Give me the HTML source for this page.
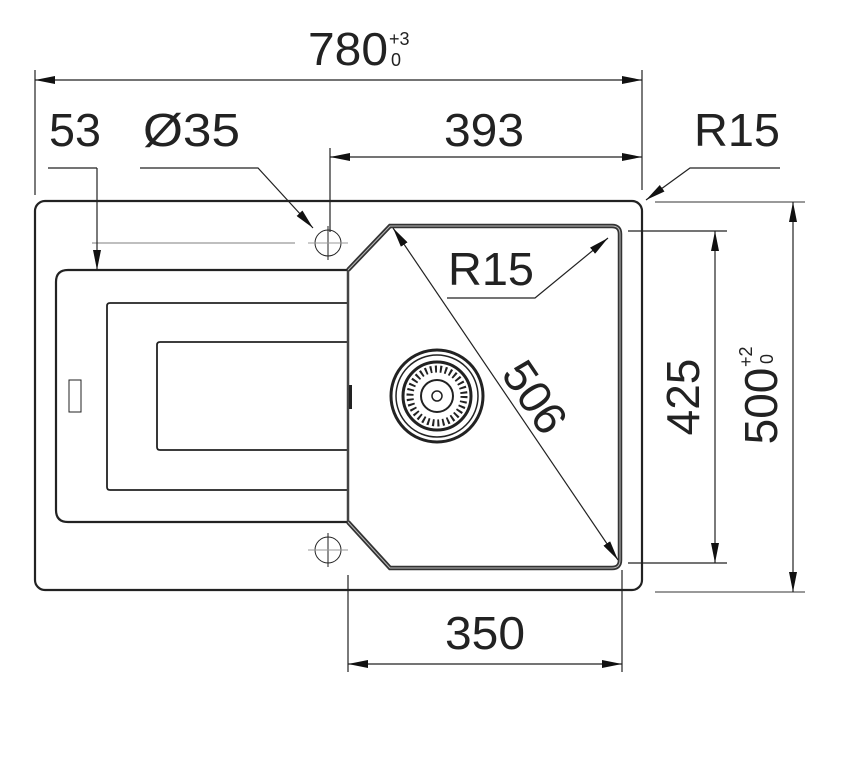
<!DOCTYPE html>
<html><head><meta charset="utf-8"><style>
html,body{margin:0;padding:0;background:#fff;}
svg{display:block;}
text{font-family:"Liberation Sans",Arial,sans-serif;fill:#222;}
</style></head><body>
<svg width="862" height="782" viewBox="0 0 862 782" xmlns="http://www.w3.org/2000/svg">
<defs>
<marker id="a" viewBox="0 0 20 8" refX="20" refY="4" markerWidth="20" markerHeight="8" markerUnits="userSpaceOnUse" orient="auto-start-reverse">
<path d="M0,0 L20,4 L0,8 Z" fill="#111"/>
</marker>
</defs>
<g fill="none" stroke="#222">
<rect x="35" y="201" width="607" height="389" rx="10" stroke-width="2.2"/>
<path d="M348,270 L68,270 Q56,270 56,282 L56,510 Q56,522 68,522 L348,522" stroke-width="2.2"/>
<path d="M348,303 L110,303 Q107,303 107,306 L107,487 Q107,490 110,490 L348,490" stroke-width="1.8"/>
<path d="M348,342 L160,342 Q157,342 157,345 L157,447 Q157,450 160,450 L348,450" stroke-width="1.8"/>
<rect x="69" y="380" width="12" height="32" stroke-width="1"/>
<line x1="348" y1="270" x2="348" y2="522" stroke-width="2.5" stroke="#444"/>
<rect x="349" y="385" width="3" height="24" fill="#222" stroke="none"/>
<path d="M348,270 L390,226 L612,226 Q620,226 620,234 L620,560 Q620,568 612,568 L390,568 L348,522" stroke-width="4.5" stroke="#333"/>
<path d="M348,270 L390,226 L612,226 Q620,226 620,234 L620,560 Q620,568 612,568 L390,568 L348,522" stroke-width="1" stroke="#bbb"/>
<circle cx="328" cy="243" r="13" stroke-width="1"/>
<line x1="328" y1="226" x2="328" y2="260" stroke-width="1"/>
<line x1="308" y1="243" x2="348" y2="243" stroke-width="1" stroke="#999"/>
<circle cx="328" cy="550" r="13" stroke-width="1"/>
<line x1="328" y1="533" x2="328" y2="567" stroke-width="1"/>
<line x1="308" y1="550" x2="348" y2="550" stroke-width="1" stroke="#999"/>
<line x1="92" y1="243" x2="295" y2="243" stroke-width="1.2" stroke="#999"/>
<circle cx="437" cy="396" r="46" stroke-width="3"/>
<circle cx="437" cy="396" r="41" stroke-width="1.5"/>
<circle cx="437" cy="396" r="34" stroke-width="3"/>
<circle cx="437" cy="396" r="27" stroke-width="7" stroke-dasharray="2 3"/>
<circle cx="437" cy="396" r="16" stroke-width="2"/>
<circle cx="437" cy="396" r="5" stroke-width="1.5"/>
<g stroke-width="1.2">
<line x1="35" y1="70" x2="35" y2="195"/>
<line x1="642" y1="70" x2="642" y2="190"/>
<line x1="35" y1="80" x2="642" y2="80" marker-start="url(#a)" marker-end="url(#a)"/>
<line x1="330" y1="148" x2="330" y2="232"/>
<line x1="330" y1="157" x2="642" y2="157" marker-start="url(#a)" marker-end="url(#a)"/>
<polyline points="48,168 97,168"/>
<line x1="97" y1="168" x2="97" y2="270" marker-end="url(#a)"/>
<polyline points="140,168 258,168 313,228" marker-end="url(#a)"/>
<polyline points="780,168 690,168 646,200" marker-end="url(#a)"/>
<polyline points="447,298 535,298 608,238" marker-end="url(#a)"/>
<line x1="393" y1="228" x2="618" y2="560" marker-start="url(#a)" marker-end="url(#a)"/>
<line x1="628" y1="231" x2="727" y2="231"/>
<line x1="628" y1="563" x2="727" y2="563"/>
<line x1="715" y1="231" x2="715" y2="563" marker-start="url(#a)" marker-end="url(#a)"/>
<line x1="655" y1="202" x2="805" y2="202" stroke="#999" stroke-width="2"/>
<line x1="655" y1="592" x2="805" y2="592" stroke="#999" stroke-width="2"/>
<line x1="793" y1="202" x2="793" y2="592" marker-start="url(#a)" marker-end="url(#a)"/>
<line x1="348" y1="575" x2="348" y2="672"/>
<line x1="622" y1="570" x2="622" y2="672"/>
<line x1="348" y1="664" x2="622" y2="664" marker-start="url(#a)" marker-end="url(#a)"/>
</g>
</g>
<g font-size="46" textLength="">
<text x="308" y="65" textLength="80" lengthAdjust="spacingAndGlyphs">780</text>
<text x="389" y="45" font-size="18">+3</text>
<text x="391" y="66" font-size="18">0</text>
<text x="49" y="146" textLength="52" lengthAdjust="spacingAndGlyphs">53</text>
<text x="143" y="146" textLength="97" lengthAdjust="spacingAndGlyphs">Ø35</text>
<text x="444" y="146" textLength="80" lengthAdjust="spacingAndGlyphs">393</text>
<text x="694" y="146" textLength="86" lengthAdjust="spacingAndGlyphs">R15</text>
<text x="448" y="285" textLength="86" lengthAdjust="spacingAndGlyphs">R15</text>
<text x="445" y="649" textLength="80" lengthAdjust="spacingAndGlyphs">350</text>
<text transform="translate(535,397) rotate(56)" text-anchor="middle" dy="16">506</text>
<text transform="translate(683,397) rotate(-90)" text-anchor="middle" dy="16">425</text>
<g transform="translate(761,400) rotate(-90)">
<text text-anchor="middle" dy="16" x="-6">500</text>
<text x="33" y="-9" font-size="18">+2</text>
<text x="36" y="12" font-size="18">0</text>
</g>
</g>
</svg>
</body></html>
